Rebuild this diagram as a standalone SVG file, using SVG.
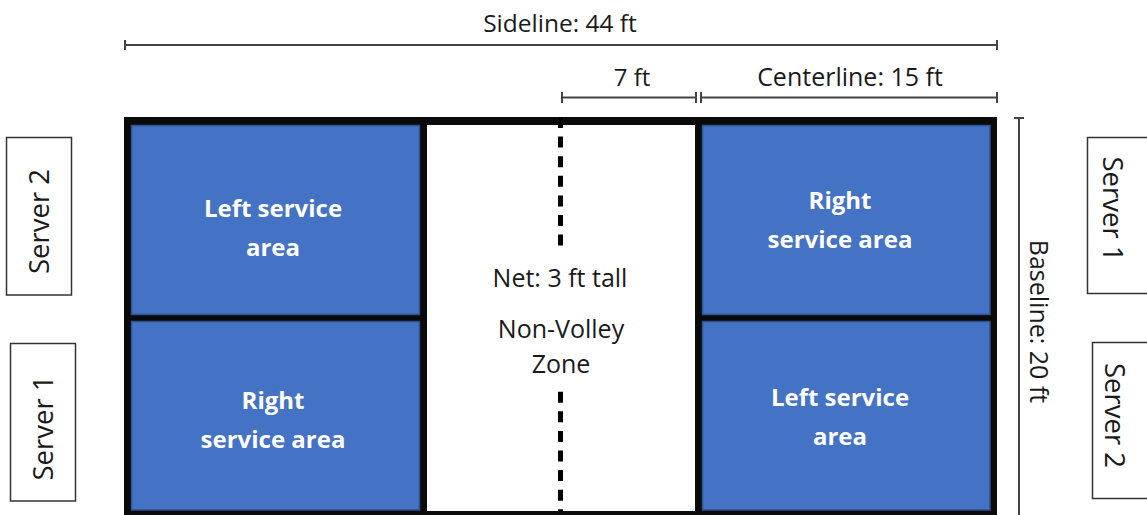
<svg xmlns="http://www.w3.org/2000/svg" width="1147" height="515" viewBox="0 0 1147 515">
<style>
.t{font-family:"Open Sans","Liberation Sans",sans-serif;font-size:24px;fill:#1a1a1a}
.s{font-size:27.5px}
.b{font-size:25px}
.w{font-family:"Open Sans","Liberation Sans",sans-serif;font-size:24px;font-weight:bold;fill:#ffffff;text-anchor:middle}
.c{text-anchor:middle}
.dim{stroke:#444;stroke-width:2;fill:none}
.blue{fill:#4472C4;stroke:#2F528F;stroke-width:1.5}
.box{fill:#fff;stroke:#333;stroke-width:1.5}
.net{stroke:#000;stroke-width:5;stroke-dasharray:11 8.6}
</style>
<rect width="1147" height="515" fill="#fff"/>
<g id="court">
<rect x="124" y="117" width="873" height="400" fill="#0a0a0a"/>
<rect x="427" y="125" width="268" height="386" fill="#fff"/>
</g>
<g id="left-service-top">
<rect class="blue" x="131.5" y="125.5" width="288" height="189"/>
<text class="w" x="273" y="217">Left service</text>
<text class="w" x="273" y="256">area</text>
</g>
<g id="right-service-bottom-left">
<rect class="blue" x="131.5" y="321.5" width="288" height="188.5"/>
<text class="w" x="273" y="409">Right</text>
<text class="w" x="273" y="448">service area</text>
</g>
<g id="right-service-top">
<rect class="blue" x="702.5" y="125.5" width="287.5" height="189"/>
<text class="w" x="840" y="209">Right</text>
<text class="w" x="840" y="248">service area</text>
</g>
<g id="left-service-bottom-right">
<rect class="blue" x="702.5" y="321.5" width="287.5" height="188.5"/>
<text class="w" x="840" y="406">Left service</text>
<text class="w" x="840" y="445">area</text>
</g>
<g id="net">
<line class="net" x1="560.5" y1="117" x2="560.5" y2="246"/>
<line class="net" x1="560.5" y1="391.7" x2="560.5" y2="511"/>
<text class="t c b" x="560" y="287">Net: 3 ft tall</text>
<text class="t c b" x="561" y="338">Non-Volley</text>
<text class="t c b" x="561" y="373">Zone</text>
</g>
<g id="connectors">
<line class="dim" x1="125" y1="45" x2="997" y2="45"/>
<line class="dim" x1="125" y1="40" x2="125" y2="50"/>
<line class="dim" x1="997" y1="40" x2="997" y2="50"/>
<line class="dim" x1="562" y1="97.5" x2="696" y2="97.5"/>
<line class="dim" x1="562" y1="92" x2="562" y2="103"/>
<line class="dim" x1="696" y1="92" x2="696" y2="103"/>
<line class="dim" x1="701" y1="97.5" x2="997" y2="97.5"/>
<line class="dim" x1="701" y1="92" x2="701" y2="103"/>
<line class="dim" x1="997" y1="92" x2="997" y2="103"/>
<line class="dim" x1="1019" y1="118" x2="1019" y2="515"/>
<line class="dim" x1="1014" y1="118" x2="1024" y2="118"/>
</g>
<g id="dim-labels">
<text class="t c" x="560" y="32" style="font-size:24.5px">Sideline: 44 ft</text>
<text class="t c" x="632" y="86">7 ft</text>
<text class="t c b" x="850" y="86">Centerline: 15 ft</text>
<text class="t c b" transform="translate(1030,321.5) rotate(90)">Baseline: 20 ft</text>
</g>
<g id="server2-left">
<rect class="box" x="6.5" y="137.5" width="65" height="157.5"/>
<text class="t c s" transform="translate(48.5,221.5) rotate(-90)">Server 2</text>
</g>
<g id="server1-left">
<rect class="box" x="10.5" y="343.5" width="65" height="157.5"/>
<text class="t c s" transform="translate(52.5,428) rotate(-90)">Server 1</text>
</g>
<g id="server1-right">
<rect class="box" x="1087.5" y="137.5" width="65" height="156"/>
<text class="t c s" transform="translate(1103,209) rotate(90)">Server 1</text>
</g>
<g id="server2-right">
<rect class="box" x="1092.5" y="342.5" width="65" height="156"/>
<text class="t c s" transform="translate(1105,415.5) rotate(90)">Server 2</text>
</g>
</svg>
